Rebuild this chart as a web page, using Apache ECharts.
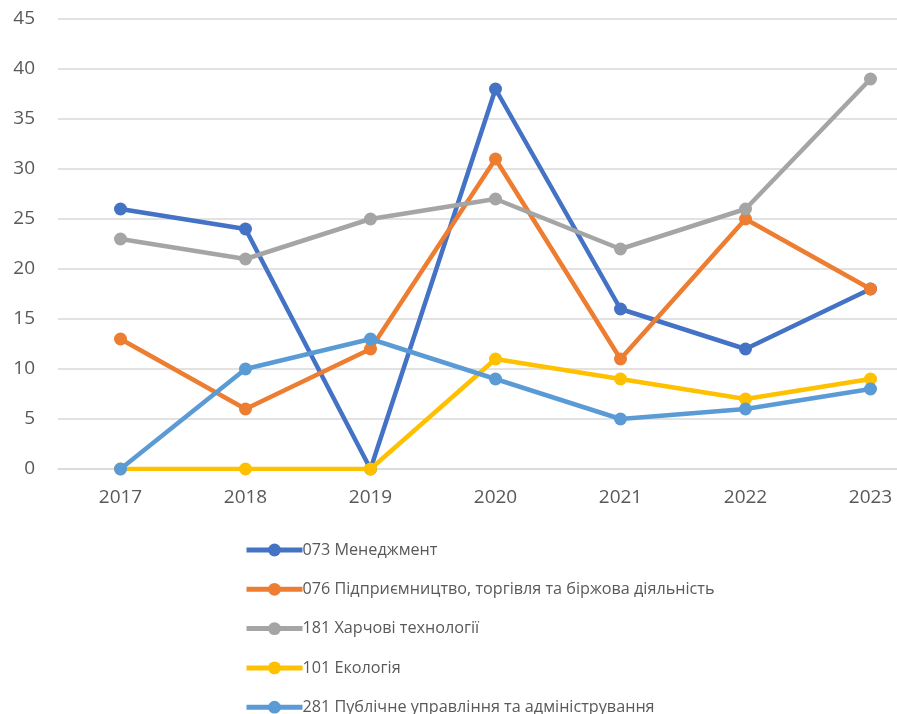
<!DOCTYPE html>
<html>
<head>
<meta charset="utf-8">
<script src="https://cdn.jsdelivr.net/npm/echarts@6/dist/echarts.min.js"></script>
<style>html,body{margin:0;padding:0;background:#fff;overflow:hidden;width:897px;height:714px;}#c{width:933px;height:714px;}</style>
</head>
<body>
<div id="c"></div>
<script>
const years = ['2017','2018','2019','2020','2021','2022','2023'];
const seriesNames = ['073 Менеджмент','076 Підприємництво, торгівля та біржова діяльність','181 Харчові технології','101 Екологія','281 Публічне управління та адміністрування'];
const management = [26,24,0,38,16,12,18];
const entrepreneurship = [13,6,12,31,11,25,18];
const foodTech = [23,21,25,27,22,26,39];
const ecology = [0,0,0,11,9,7,9];
const publicAdmin = [0,10,13,9,5,6,8];
const colors = ['#4472C4','#ED7D31','#A5A5A5','#FFC000','#5B9BD5'];
const values = [management, entrepreneurship, foodTech, ecology, publicAdmin];

const font = '"Open Sans", "Liberation Sans", sans-serif';
const chart = echarts.init(document.getElementById('c'));
chart.setOption({
  animation: false,
  color: colors,
  textStyle: {fontFamily: font},
  grid: {left: 58, top: 19, right: 0, bottom: 245, containLabel: false},
  legend: {
    orient: 'vertical', left: 244, top: 542, padding: 0, height: 400,
    itemWidth: 56, itemHeight: 16, itemGap: 23.3,
    lineStyle: {width: 5},
    textStyle: {fontSize: 16.2, color: '#595959', fontFamily: font, padding: [0,0,0,-5]},
    data: seriesNames
  },
  xAxis: {
    type: 'category', data: years, boundaryGap: true,
    axisLine: {lineStyle: {color: '#D9D9D9', width: 1.5}},
    axisTick: {show: false},
    axisLabel: {fontSize: 19, color: '#595959', margin: 19, fontFamily: font}
  },
  yAxis: {
    type: 'value', min: 0, max: 45, interval: 5,
    axisLine: {show: false}, axisTick: {show: false},
    splitLine: {lineStyle: {color: '#D9D9D9', width: 1.5}},
    axisLabel: {fontSize: 19, color: '#595959', margin: 23, fontFamily: font}
  },
  series: seriesNames.map((n, i) => ({
    name: n, type: 'line', data: values[i],
    symbol: 'circle', symbolSize: 13,
    lineStyle: {width: 4.5, color: colors[i]},
    itemStyle: {color: colors[i]},
    z: 2 + i
  }))
});
</script>
</body>
</html>
